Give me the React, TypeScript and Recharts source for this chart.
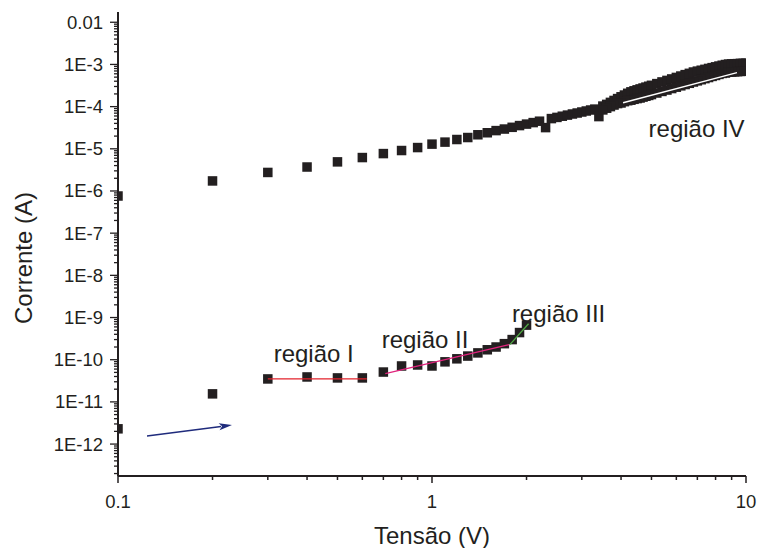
import React from 'react'
import { ComposedChart, Scatter, Line, XAxis, YAxis, ReferenceDot, ReferenceLine } from 'recharts'

const FONT = '"Liberation Sans", Arial, Helvetica, sans-serif'
const INK = '#231f20'
const AZUL = '#1f2b7c'

// curva de baixa corrente (regiões I, II, III)
const tensaoBaixa = [0.1, 0.2, 0.3, 0.4, 0.5, 0.6, 0.7, 0.8, 0.9, 1.0, 1.1, 1.2, 1.3, 1.4, 1.5, 1.6, 1.7, 1.8, 1.9, 2.0]
const correnteBaixa = [2.3e-12, 1.55e-11, 3.5e-11, 3.9e-11, 3.7e-11, 3.7e-11, 5.1e-11, 7.1e-11, 7.5e-11, 7.1e-11,
  8.9e-11, 1.05e-10, 1.22e-10, 1.45e-10, 1.72e-10, 2.0e-10, 2.4e-10, 3.0e-10, 4.4e-10, 6.6e-10]

// curva de alta corrente, ida 0.1 -> 10 V
const tensaoIda = [0.1, 0.2, 0.3, 0.4, 0.5, 0.6, 0.7, 0.8, 0.9, 1.0,
  1.1, 1.2, 1.3, 1.4, 1.5, 1.6, 1.7, 1.8, 1.9, 2.0,
  2.1, 2.2, 2.3, 2.4, 2.5, 2.6, 2.7, 2.8, 2.9, 3.0,
  3.1, 3.2, 3.3, 3.4, 3.5, 3.6, 3.7, 3.8, 3.9, 4.0,
  4.1, 4.2, 4.3, 4.4, 4.5, 4.6, 4.7, 4.8, 4.9, 5.0,
  5.2, 5.4, 5.6, 5.8, 6.0, 6.2, 6.4, 6.6, 6.8, 7.0,
  7.2, 7.4, 7.6, 7.8, 8.0, 8.2, 8.4, 8.6, 8.8, 9.0,
  9.2, 9.4, 9.6, 9.8, 10]
const correnteIda = [7.6e-7, 1.73e-6, 2.75e-6, 3.7e-6, 4.9e-6, 6.2e-6, 7.7e-6, 9.1e-6, 1.07e-5, 1.29e-5,
  1.44e-5, 1.66e-5, 1.85e-5, 2.15e-5, 2.4e-5, 2.7e-5, 2.94e-5, 3.23e-5, 3.55e-5, 3.85e-5,
  4.18e-5, 4.51e-5, 3.18e-5, 5.2e-5, 5.55e-5, 5.92e-5, 6.29e-5, 6.68e-5, 7.05e-5, 7.45e-5,
  7.87e-5, 8.31e-5, 8.73e-5, 5.8e-5, 1.03e-4, 1.13e-4, 1.26e-4, 1.4e-4, 1.55e-4, 1.71e-4,
  1.88e-4, 2.07e-4, 2.24e-4, 2.37e-4, 2.5e-4, 2.63e-4, 2.76e-4, 2.9e-4, 3.04e-4, 3.2e-4,
  3.51e-4, 3.85e-4, 4.18e-4, 4.53e-4, 4.92e-4, 5.31e-4, 5.73e-4, 6.15e-4, 6.61e-4, 6.94e-4,
  7.29e-4, 7.65e-4, 8.04e-4, 8.4e-4, 8.77e-4, 9.17e-4, 9.57e-4, 9.95e-4, 1.02e-3, 1.03e-3,
  1.04e-3, 1.045e-3, 1.06e-3, 1.06e-3, 1.07e-3]

// volta 10 -> 3.5 V
const tensaoVolta = [10, 9.8, 9.6, 9.4, 9.2, 9.0, 8.8, 8.6, 8.4, 8.2,
  8.0, 7.8, 7.6, 7.4, 7.2, 7.0, 6.8, 6.6, 6.4, 6.2,
  6.0, 5.8, 5.6, 5.4, 5.2, 5.0, 4.9, 4.8, 4.7, 4.6,
  4.5, 4.4, 4.3, 4.2, 4.1, 4.0, 3.9, 3.8, 3.7, 3.6, 3.5]
const correnteVolta = [6.94e-4, 6.87e-4, 6.83e-4, 6.75e-4, 6.68e-4, 6.61e-4, 6.55e-4, 6.25e-4, 6.12e-4, 5.8e-4,
  5.48e-4, 5.2e-4, 4.89e-4, 4.61e-4, 4.34e-4, 4.08e-4, 3.83e-4, 3.57e-4, 3.34e-4, 3.11e-4,
  2.89e-4, 2.68e-4, 2.47e-4, 2.29e-4, 2.1e-4, 1.93e-4, 1.84e-4, 1.76e-4, 1.68e-4, 1.6e-4,
  1.55e-4, 1.49e-4, 1.42e-4, 1.38e-4, 1.31e-4, 1.22e-4, 1.18e-4, 1.09e-4, 1.0e-4, 9.17e-5, 8.35e-5]

// retas de ajuste
const ajusteI = [{ x: 0.3, y: 3.5e-11 }, { x: 0.62, y: 3.5e-11 }]
const ajusteII = [{ x: 0.71, y: 4.66e-11 }, { x: 1.76, y: 2.27e-10 }]
const ajusteIII = [{ x: 1.77, y: 2.27e-10 }, { x: 2.03, y: 7.1e-10 }]
const ajusteIV = [{ x: 4.06, y: 1.24e-4 }, { x: 9.36, y: 6.4e-4 }]
const seta = [{ x: 0.1237, y: 1.55e-12 }, { x: 0.2307, y: 2.82e-12 }]

const rotulos = [
  { texto: 'região I', x: 0.42, y: 9.0e-11 },
  { texto: 'região II', x: 0.95, y: 1.92e-10 },
  { texto: 'região III', x: 2.53, y: 7.9e-10 },
  { texto: 'região IV', x: 6.96, y: 1.95e-5 },
]

const xMajor = [0.1, 1, 10]
const xMajorLabels = ['0.1', '1', '10']
const xMinor = [0.2, 0.3, 0.4, 0.5, 0.6, 0.7, 0.8, 0.9, 2, 3, 4, 5, 6, 7, 8, 9]
const yMajor = [1e-12, 1e-11, 1e-10, 1e-9, 1e-8, 1e-7, 1e-6, 1e-5, 1e-4, 1e-3, 1e-2]
const yMajorLabels = ['1E-12', '1E-11', '1E-10', '1E-9', '1E-8', '1E-7', '1E-6', '1E-5', '1E-4', '1E-3', '0.01']
const Y_DOMAIN: [number, number] = [1.75e-13, 0.0175]

const yMinor: number[] = []
for (let e = -13; e <= -3; e++) {
  for (let m = 2; m <= 9; m++) {
    const v = m * Math.pow(10, e)
    if (v >= Y_DOMAIN[0] && v <= Y_DOMAIN[1]) yMinor.push(v)
  }
}

const pts = (xs: number[], ys: number[]) => xs.map((x, i) => ({ x, y: ys[i] }))

const LADO = 9.5
const quadrado = (p: any) => {
  if (p.cx == null || p.cy == null) return <g />
  return <rect x={p.cx - LADO / 2} y={p.cy - LADO / 2} width={LADO} height={LADO} fill={INK} />
}

const XTick = (p: any) => {
  const i = xMajor.indexOf(p.payload.value)
  const major = i >= 0
  return (
    <g>
      <line x1={p.x} x2={p.x} y1={p.y} y2={p.y + (major ? 7 : 4)} stroke={INK} strokeWidth={1.5} />
      {major && (
        <text x={p.x} y={p.y + 32} textAnchor="middle" fontSize={18.5} fontFamily={FONT} fill={INK}>
          {xMajorLabels[i]}
        </text>
      )}
    </g>
  )
}

const YTick = (p: any) => {
  const i = yMajor.indexOf(p.payload.value)
  const major = i >= 0
  return (
    <g>
      <line x1={p.x - (major ? 8 : 4)} x2={p.x} y1={p.y} y2={p.y} stroke={INK} strokeWidth={1.3} />
      {major && (
        <text x={p.x - 15} y={p.y} dy={6.5} textAnchor="end" fontSize={18.5} fontFamily={FONT} fill={INK}>
          {yMajorLabels[i]}
        </text>
      )}
    </g>
  )
}

const desenhaSeta = (p: any) => {
  const { x1, y1, x2, y2 } = p
  const ang = Math.atan2(y2 - y1, x2 - x1)
  const L = 13
  const W = 3.5
  const bx = x2 - L * Math.cos(ang)
  const by = y2 - L * Math.sin(ang)
  const nx = -Math.sin(ang) * W
  const ny = Math.cos(ang) * W
  return (
    <g>
      <line x1={x1} y1={y1} x2={bx + 2 * Math.cos(ang)} y2={by + 2 * Math.sin(ang)} stroke={AZUL} strokeWidth={1.5} />
      <polygon points={`${x2},${y2} ${bx + nx},${by + ny} ${bx + 3 * Math.cos(ang)},${by + 3 * Math.sin(ang)} ${bx - nx},${by - ny}`} fill={AZUL} />
    </g>
  )
}

export default function App() {
  return (
    <div style={{ position: 'absolute', left: 0, top: 0, background: '#fff' }}>
      <ComposedChart width={760} height={548} margin={{ top: 12, right: 14, bottom: 0, left: 0 }}>
        <XAxis
          type="number"
          dataKey="x"
          scale="log"
          domain={[0.1, 10]}
          allowDataOverflow
          ticks={[...xMajor, ...xMinor]}
          interval={0}
          tick={<XTick />}
          tickLine={false}
          tickSize={0}
          tickMargin={0}
          height={72}
          axisLine={{ stroke: INK, strokeWidth: 2 }}
          label={{
            content: (lp: any) => (
              <text x={lp.viewBox.x + lp.viewBox.width / 2} y={544} textAnchor="middle" fontSize={24} fontFamily={FONT} fill={INK}>
                Tensão (V)
              </text>
            ),
          }}
        />
        <YAxis
          type="number"
          dataKey="y"
          scale="log"
          domain={Y_DOMAIN}
          allowDataOverflow
          ticks={[...yMajor, ...yMinor]}
          interval={0}
          tick={<YTick />}
          tickLine={false}
          tickSize={0}
          tickMargin={0}
          width={118}
          axisLine={{ stroke: INK, strokeWidth: 2 }}
          label={{
            content: () => (
              <text transform="translate(32,258) rotate(-90)" textAnchor="middle" fontSize={24} fontFamily={FONT} fill={INK}>
                Corrente (A)
              </text>
            ),
          }}
        />
        <Scatter data={pts(tensaoBaixa, correnteBaixa)} shape={quadrado} isAnimationActive={false} />
        <Scatter data={pts(tensaoIda, correnteIda)} shape={quadrado} isAnimationActive={false} />
        <Scatter data={pts(tensaoVolta, correnteVolta)} shape={quadrado} isAnimationActive={false} />
        <Line data={ajusteI} dataKey="y" type="linear" stroke="#e3222b" strokeWidth={1.3} dot={false} isAnimationActive={false} zIndex={700} />
        <Line data={ajusteII} dataKey="y" type="linear" stroke="#e0237c" strokeWidth={1.3} dot={false} isAnimationActive={false} zIndex={700} />
        <Line data={ajusteIII} dataKey="y" type="linear" stroke="#4fa843" strokeWidth={1.3} dot={false} isAnimationActive={false} zIndex={700} />
        <Line data={ajusteIV} dataKey="y" type="linear" stroke="#ffffff" strokeWidth={1.5} dot={false} isAnimationActive={false} zIndex={700} />
        <ReferenceLine segment={seta} shape={desenhaSeta} />
        {rotulos.map((r) => (
          <ReferenceDot
            key={r.texto}
            x={r.x}
            y={r.y}
            shape={(p: any) => (
              <text x={p.cx} y={p.cy} textAnchor="middle" fontSize={24} fontFamily={FONT} fill={INK}>
                {r.texto}
              </text>
            )}
          />
        ))}
      </ComposedChart>
    </div>
  )
}
